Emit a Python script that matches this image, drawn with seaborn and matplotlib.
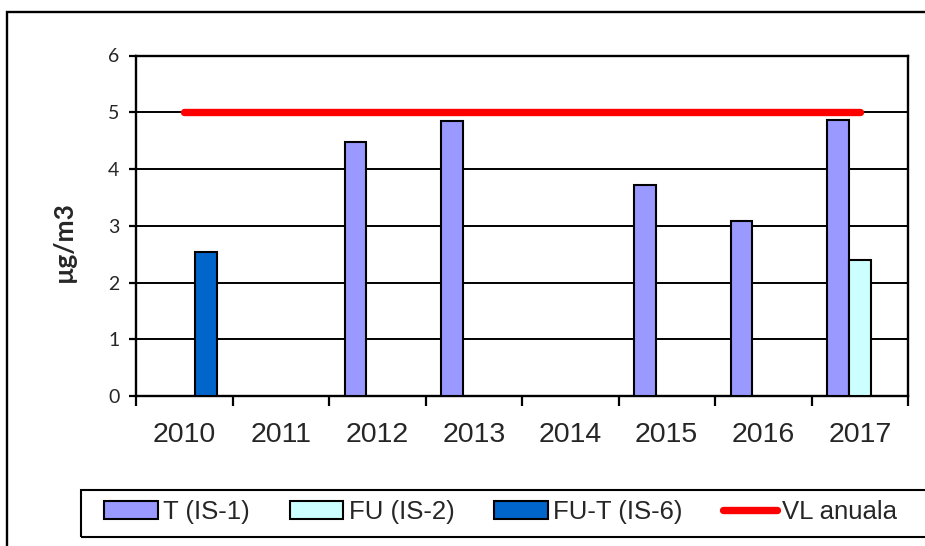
import numpy as np
import pandas as pd
import matplotlib
matplotlib.use('Agg')
import matplotlib.pyplot as plt
import seaborn as sns
from matplotlib.patches import Patch, Rectangle
from matplotlib.lines import Line2D

# Chart values
years = ['2010', '2011', '2012', '2013', '2014', '2015', '2016', '2017']
t_is1 = [np.nan, np.nan, 4.47, 4.84, np.nan, 3.72, 3.09, 4.86]
fu_is2 = [np.nan, np.nan, np.nan, np.nan, np.nan, np.nan, np.nan, 2.39]
fut_is6 = [2.53, np.nan, np.nan, np.nan, np.nan, np.nan, np.nan, np.nan]
vl_anuala = [5, 5, 5, 5, 5, 5, 5, 5]

series_names = ['T (IS-1)', 'FU (IS-2)', 'FU-T (IS-6)']
series_colors = ['#9999FF', '#CCFFFF', '#0066CC']

data = pd.DataFrame({'year': years, 'T (IS-1)': t_is1,
                     'FU (IS-2)': fu_is2, 'FU-T (IS-6)': fut_is6})
data = data.melt(id_vars='year', var_name='series', value_name='value').dropna()

sns.set_style('white')
fig = plt.figure(figsize=(9.25, 5.46), dpi=100)
W, H = 925, 546
ax = fig.add_axes([136 / W, 1 - 396 / H, (908 - 136) / W, (396 - 55.5) / H])

sns.barplot(data=data, x='year', y='value', hue='series', order=years,
            hue_order=series_names, palette=series_colors, width=0.67,
            edgecolor='black', linewidth=1.5, errorbar=None, legend=False,
            saturation=1, ax=ax, zorder=3)

ax.plot(range(len(years)), vl_anuala, color='#FF0000', lw=5.3,
        solid_capstyle='round', zorder=4)

ax.set_xlim(-0.5, len(years) - 0.5)
ax.set_ylim(0, 6)
ax.set_yticks(range(0, 7))
ax.yaxis.grid(True, color='black', lw=1.4, zorder=0)
ax.set_axisbelow(True)
for s in ax.spines.values():
    s.set_color('black')
    s.set_linewidth(1.7)

# category labels at centres, tick marks at the boundaries
ax.set_xticks(range(len(years)))
ax.set_xticklabels(years, family='Liberation Sans', fontsize=20.5)
ax.tick_params(axis='x', which='major', length=0, pad=19)
ax.set_xticks(np.arange(-0.5, len(years)), minor=True)
ax.tick_params(axis='x', which='minor', length=7, width=1.6, color='black',
               direction='out', bottom=True)
ax.tick_params(axis='y', length=5, width=1.6, color='black', direction='out',
               left=True, pad=7, labelsize=14)
for lab in ax.get_yticklabels():
    lab.set_family('Lato')
ax.set_xlabel('')
ax.set_ylabel('')

fig.text(64 / W, 1 - 242 / H, 'µg/m3', rotation=90, ha='center', va='center',
         fontsize=19, fontweight='bold', family='Lato')

# outer chart border and legend box (both run past the crop)
fig.patches.append(Rectangle((7 / W, -0.1), 1.2, 1 - 12 / H + 0.1,
                             transform=fig.transFigure, fill=False,
                             edgecolor='black', lw=1.7))
fig.patches.append(Rectangle((81 / W, 1 - 536.5 / H), 1.2, 46.5 / H,
                             transform=fig.transFigure, fill=False,
                             edgecolor='black', lw=1.5))

handles = [Patch(facecolor=c, edgecolor='black', lw=1.5) for c in series_colors]
handles.append(Line2D([0], [0], color='#FF0000', lw=5.3, solid_capstyle='round'))
fig.legend(handles, series_names + ['VL anuala'], ncol=4, frameon=False,
           loc='center left', bbox_to_anchor=(91 / W, 1 - 512 / H),
           prop={'family': 'Liberation Sans', 'size': 18.5},
           handlelength=2.1, handleheight=0.65, handletextpad=0.2,
           columnspacing=1.55, borderpad=0)

fig.savefig('out.png', dpi=100)
